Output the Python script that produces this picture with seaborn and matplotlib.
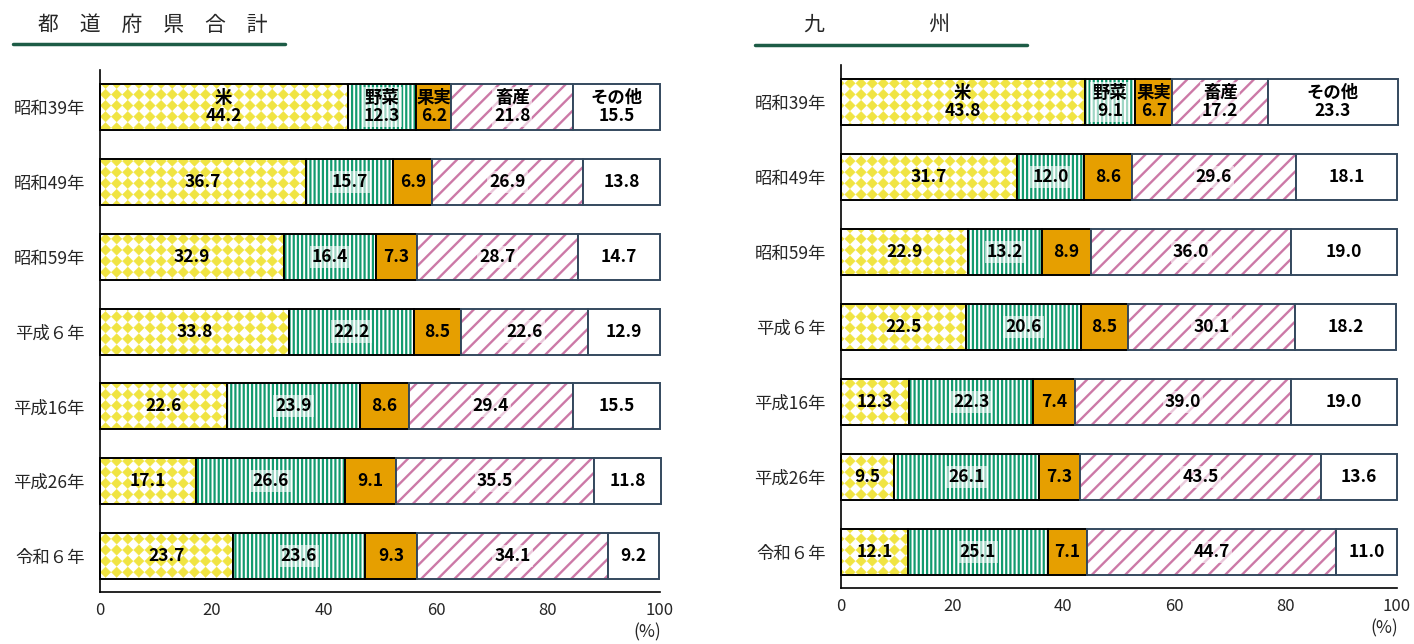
import numpy as np
import matplotlib
matplotlib.use("Agg")
import matplotlib.pyplot as plt
import matplotlib.hatch as mhatch
from matplotlib.path import Path
from matplotlib.lines import Line2D
import seaborn as sns

# ---------------------------------------------------------------- data
periods = ["昭和39年", "昭和49年", "昭和59年", "平成６年", "平成16年", "平成26年", "令和６年"]
categories = ["米", "野菜", "果実", "畜産", "その他"]

# 都道府県合計 (%)
total_rice = [44.2, 36.7, 32.9, 33.8, 22.6, 17.1, 23.7]
total_veg = [12.3, 15.7, 16.4, 22.2, 23.9, 26.6, 23.6]
total_fruit = [6.2, 6.9, 7.3, 8.5, 8.6, 9.1, 9.3]
total_livestock = [21.8, 26.9, 28.7, 22.6, 29.4, 35.5, 34.1]
total_other = [15.5, 13.8, 14.7, 12.9, 15.5, 11.8, 9.2]

# 九州 (%)
kyushu_rice = [43.8, 31.7, 22.9, 22.5, 12.3, 9.5, 12.1]
kyushu_veg = [9.1, 12.0, 13.2, 20.6, 22.3, 26.1, 25.1]
kyushu_fruit = [6.7, 8.6, 8.9, 8.5, 7.4, 7.3, 7.1]
kyushu_livestock = [17.2, 29.6, 36.0, 30.1, 39.0, 43.5, 44.7]
kyushu_other = [23.3, 18.1, 19.0, 18.2, 19.0, 13.6, 11.0]

x_ticks = [0, 20, 40, 60, 80, 100]


# ------------------------------------------------ diamond fill pattern
class DiamondHatch(mhatch.HatchPatternBase):
    """Filled diamonds on a square grid (hatch character '*')."""

    def __init__(self, hatch, density):
        self.num_rows = 9 * hatch.count("*")
        self.num_vertices = 5 * self.num_rows ** 2

    def set_vertices_and_codes(self, vertices, codes):
        n = self.num_rows
        step = 1.0 / n
        half = 0.47 * step
        shape = np.array([[0, -half], [half, 0], [0, half], [-half, 0], [0, -half]])
        centres = (np.arange(n) + 0.5) * step
        cx, cy = np.meshgrid(centres, centres)
        pts = shape[None, :, :] + np.stack([cx.ravel(), cy.ravel()], axis=1)[:, None, :]
        vertices[:] = pts.reshape(-1, 2)
        c = np.full((n * n, 5), Path.LINETO, dtype=codes.dtype)
        c[:, 0] = Path.MOVETO
        c[:, -1] = Path.CLOSEPOLY
        codes[:] = c.ravel()


mhatch._hatch_types = [t for t in mhatch._hatch_types if t is not mhatch.Stars] + [DiamondHatch]

# ---------------------------------------------------------------- style
sns.set_style("white")
plt.rcParams["font.family"] = ["Noto Sans CJK JP", "DejaVu Sans"]

SLATE = "#34495e"
styles = [
    dict(face="white", pattern="#F0E442", hatch="*", hatch_lw=0.3, edge="black"),
    dict(face="white", pattern="#129b6f", hatch="||||", hatch_lw=1.6, edge="black"),
    dict(face="#E69F00", pattern="#E69F00", hatch=None, hatch_lw=1.0, edge="black"),
    dict(face="white", pattern="#CC79A7", hatch="//", hatch_lw=1.7, edge=SLATE),
    dict(face="white", pattern="white", hatch=None, hatch_lw=1.0, edge=SLATE),
]
label_box = [None, dict(facecolor="white", alpha=0.6, edgecolor="none", pad=1.5),
             None, dict(facecolor="white", alpha=0.6, edgecolor="none", pad=1.5), None]
BAR_H = 0.615


def draw_panel(ax, series):
    lefts = np.zeros(len(periods))
    for k, vals in enumerate(series):
        vals = np.asarray(vals, dtype=float)
        st = styles[k]
        n_before = len(ax.patches)
        with plt.rc_context({"hatch.linewidth": st["hatch_lw"]}):
            sns.barplot(x=vals, y=periods, orient="y", left=lefts, color=st["face"],
                        saturation=1, edgecolor=st["pattern"], linewidth=0,
                        hatch=st["hatch"], width=BAR_H, errorbar=None, ax=ax)
        for p in ax.patches[n_before:]:
            if hasattr(p, "set_hatch_linewidth"):
                p.set_hatch_linewidth(st["hatch_lw"])
            p.set_clip_on(False)
        n_before = len(ax.patches)
        sns.barplot(x=vals, y=periods, orient="y", left=lefts, color=st["edge"],
                    fill=False, linewidth=1.4, width=BAR_H, errorbar=None, ax=ax)
        for p in ax.patches[n_before:]:
            p.set_clip_on(False)
        for i, (l, v) in enumerate(zip(lefts, vals)):
            txt = f"{categories[k]}\n{v:.1f}" if i == 0 else f"{v:.1f}"
            ax.text(l + v / 2, i, txt, ha="center", va="center", fontsize=12.5,
                    fontweight="bold", linespacing=1.0, color="black",
                    bbox=label_box[k], zorder=5)
        lefts = lefts + vals

    ax.set_xlim(0, 100)
    ax.set_ylim(6.48, -0.495)
    ax.set_xticks(x_ticks)
    ax.set_xlabel("")
    ax.set_ylabel("")
    for side in ("top", "right"):
        ax.spines[side].set_visible(False)
    for side in ("left", "bottom"):
        ax.spines[side].set_color("black")
        ax.spines[side].set_linewidth(1.2)
    ax.tick_params(axis="x", direction="in", length=6, width=1.1, color="black",
                   labelsize=12, pad=7)
    ax.tick_params(axis="y", length=0, pad=11, labelsize=12.5)
    ax.annotate("(%)", xy=(1, 0), xycoords="axes fraction", xytext=(-9, -29),
                textcoords="offset points", ha="center", va="center", fontsize=12.5)


fig = plt.figure(figsize=(14.14, 6.44), dpi=100)
ax_total = fig.add_axes([100 / 1414, 52 / 644, 560 / 1414, 522 / 644])
ax_kyushu = fig.add_axes([841 / 1414, 56 / 644, 556 / 1414, 523 / 644])

draw_panel(ax_total, [total_rice, total_veg, total_fruit, total_livestock, total_other])
draw_panel(ax_kyushu, [kyushu_rice, kyushu_veg, kyushu_fruit, kyushu_livestock, kyushu_other])

# panel headings with underline
fig.text(153 / 1414, 1 - 25 / 644, "都　道　府　県　合　計", ha="center", va="center", fontsize=15)
fig.text(877 / 1414, 1 - 25 / 644, "九　　　　　州", ha="center", va="center", fontsize=15)
fig.add_artist(Line2D([13 / 1414, 285 / 1414], [1 - 44 / 644] * 2, color="#1d5c46", lw=2.5))
fig.add_artist(Line2D([755 / 1414, 1027 / 1414], [1 - 45 / 644] * 2, color="#1d5c46", lw=2.5))

fig.savefig("out.png", dpi=100, facecolor="white")
